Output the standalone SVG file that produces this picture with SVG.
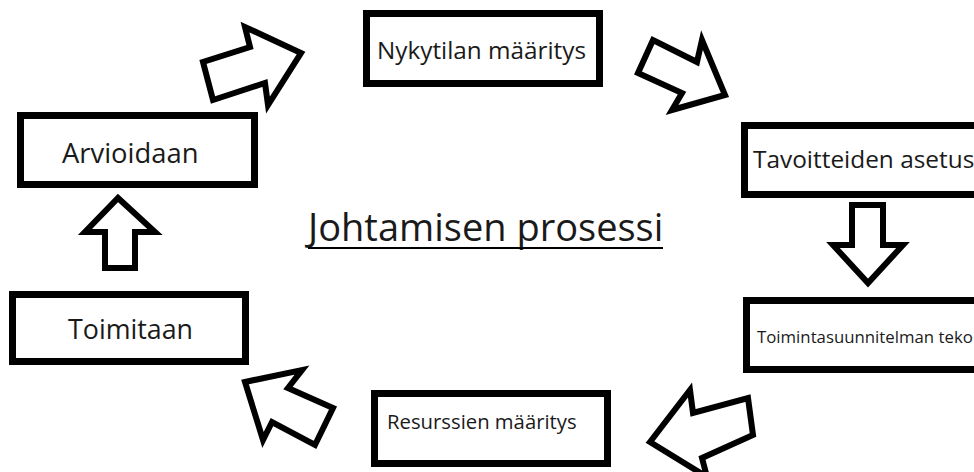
<svg xmlns="http://www.w3.org/2000/svg" width="974" height="472" viewBox="0 0 974 472">
  <style>
    .box { fill: #ffffff; stroke: #000000; stroke-width: 7; }
    .arrow { fill: #ffffff; stroke: #000000; stroke-width: 6; stroke-linejoin: miter; stroke-miterlimit: 10; }
    .label { font-family: "Open Sans", "Noto Sans", sans-serif; fill: #1a1a1a; }
    .title { font-family: "Open Sans", "Noto Sans", sans-serif; fill: #1a1a1a; font-size: 38px; }
  </style>
  <rect width="974" height="472" fill="#ffffff"/>

  <!-- process steps -->
  <g id="nykytila">
    <rect class="box" x="366.5" y="13.5" width="233" height="70"/>
    <text class="label" x="377" y="59" font-size="24.3">Nykytilan määritys</text>
  </g>
  <g id="tavoitteet">
    <rect class="box" x="744.5" y="125.5" width="240" height="69"/>
    <text class="label" x="753" y="168" font-size="24.4">Tavoitteiden asetus</text>
  </g>
  <g id="toimintasuunnitelma">
    <rect class="box" x="746.5" y="300.5" width="240" height="69"/>
    <text class="label" x="757" y="343" font-size="16.8">Toimintasuunnitelman teko</text>
  </g>
  <g id="resurssit">
    <rect class="box" x="374.5" y="393.5" width="233" height="70"/>
    <text class="label" x="387" y="429" font-size="20.3">Resurssien määritys</text>
  </g>
  <g id="toimitaan">
    <rect class="box" x="12.5" y="294.5" width="233" height="67"/>
    <text class="label" x="68" y="339" font-size="26.8">Toimitaan</text>
  </g>
  <g id="arvioidaan">
    <rect class="box" x="20.5" y="115.5" width="234" height="69"/>
    <text class="label" x="62" y="163" font-size="27.4">Arvioidaan</text>
  </g>

  <!-- block arrows between the steps -->
  <g id="connectors">
    <polygon class="arrow" points="213,100 203,62 250,47 245,27 301,53 268,105 265,83"/>
    <polygon class="arrow" points="653,40 638,73 682,93 672,110 725,95 702,40 697,62"/>
    <polygon class="arrow" points="852,205 883,205 883,245 903,245 868,283 833,245 852,245"/>
    <polygon class="arrow" points="105,268 135,268 135,232 155,232 118,198 85,232 105,232"/>
    <polygon class="arrow" points="245,382 302,370 288,388 333,408 315,445 272,422 263,440"/>
    <polygon class="arrow" points="650,442 690,390 693,413 748,398 753,435 702,458 707,477"/>
  </g>

  <!-- heading -->
  <g id="heading">
    <text class="title" x="308" y="241">Johtamisen prosessi</text>
    <line x1="308" y1="248" x2="663" y2="248" stroke="#000000" stroke-width="2"/>
  </g>
</svg>
